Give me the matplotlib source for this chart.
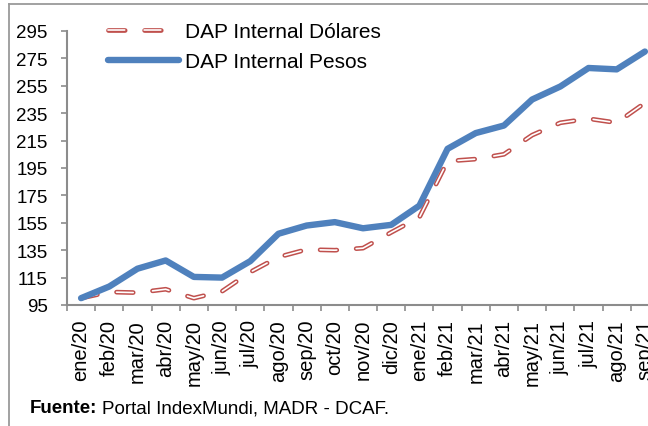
import matplotlib
matplotlib.use("Agg")
import matplotlib.pyplot as plt
from matplotlib.lines import Line2D
import numpy as np

plt.rcParams['font.family'] = ['Liberation Sans', 'DejaVu Sans']
plt.rcParams['lines.scale_dashes'] = False

months = ["ene/20", "feb/20", "mar/20", "abr/20", "may/20", "jun/20", "jul/20",
          "ago/20", "sep/20", "oct/20", "nov/20", "dic/20", "ene/21", "feb/21",
          "mar/21", "abr/21", "may/21", "jun/21", "jul/21", "ago/21", "sep/21"]
dolares = [100, 104.5, 104, 106.5, 100, 105, 119, 130, 135.5, 135, 136.5, 148,
           159, 200, 201.5, 205, 219, 228, 231, 228, 242.5]
pesos = [100, 108.5, 121.5, 127.5, 115.5, 115, 127, 147, 153, 155.5, 151, 153.5,
         167.5, 209, 220.5, 226, 245, 254.5, 268, 267, 280]

W, H = 648, 427
fig = plt.figure(figsize=(W / 100, H / 100), dpi=100)
ax = fig.add_axes([67 / W, 121 / H, 592 / W, 274 / H])

x = np.arange(len(months))
blue = "#4F81BD"
red = "#C0504D"

dash = (0, (12, 14))
red_out, = ax.plot(x, dolares, color=red, lw=3.4, ls=dash,
                   dash_capstyle="round", zorder=2)
red_in, = ax.plot(x, dolares, color="white", lw=1.2, ls=dash,
                  dash_capstyle="round", zorder=3)
blue_ln, = ax.plot(x, pesos, color=blue, lw=4.6, solid_capstyle="round",
                   solid_joinstyle="round", zorder=4)

ax.set_xlim(-0.5, len(months) - 0.5)
ax.set_ylim(95, 295)
ax.set_yticks(np.arange(95, 296, 20))
ax.set_xticks(x)
ax.set_xticklabels(months, rotation=90)
ax.set_xticks(np.arange(-0.5, len(months), 1), minor=True)

for side in ["top", "right"]:
    ax.spines[side].set_visible(False)
for side in ["left", "bottom"]:
    ax.spines[side].set_color("#8c8c8c")
    ax.spines[side].set_linewidth(1.5)

ax.tick_params(axis="y", length=4.5, width=1.2, color="#8c8c8c",
               labelsize=13.5, pad=9.5)
ax.tick_params(axis="x", which="major", length=0, labelsize=14.5, pad=10)
ax.tick_params(axis="x", which="minor", length=4.5, width=1.2, color="#8c8c8c")

ax.legend([(red_out, red_in), blue_ln],
          ["DAP Internal Dólares", "DAP Internal Pesos"],
          loc="upper left", bbox_to_anchor=(108 / W, 1 - 23 / H),
          bbox_transform=fig.transFigure, frameon=False, fontsize=15,
          handlelength=3.4, handletextpad=0.3, borderpad=0, borderaxespad=0,
          labelspacing=0.55)

# source note: bold label followed by plain text
fy = 1 - 409 / H
t1 = fig.text(30 / W, fy, "Fuente:", fontsize=13.5, fontweight="bold",
              va="center", ha="left")
r = fig.canvas.get_renderer()
x2 = t1.get_window_extent(r).x1 + 5
fig.text(x2 / W, fy, "Portal IndexMundi, MADR - DCAF.", fontsize=13.5,
         va="center", ha="left")

# outer frame of the chart box
fig.add_artist(Line2D([9 / W, 9 / W], [0, 1 - 5 / H], transform=fig.transFigure,
                      color="#9a9a9a", lw=1.3))
fig.add_artist(Line2D([9 / W, 1], [1 - 5 / H, 1 - 5 / H], transform=fig.transFigure,
                      color="#9a9a9a", lw=1.3))

fig.savefig("out.png", dpi=100)
